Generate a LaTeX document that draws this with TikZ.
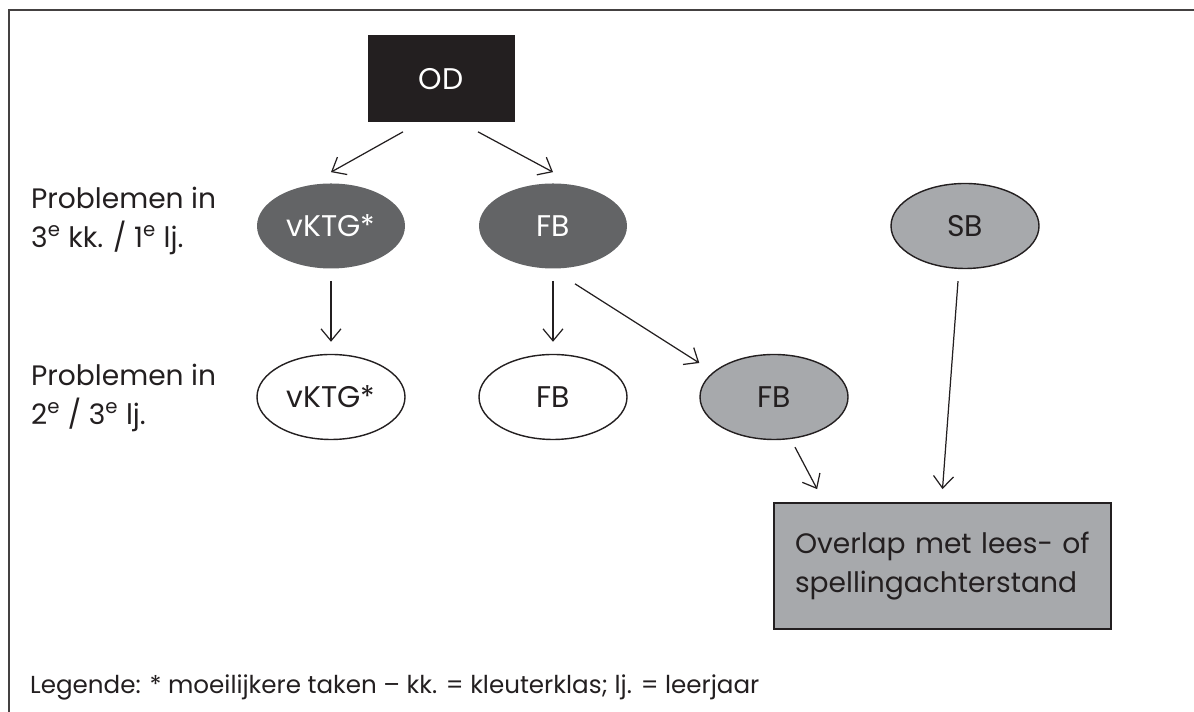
\documentclass[tikz,border=0pt]{standalone}
\usepackage{fontspec}
\setmainfont{Poppins}
\usepackage{xcolor}
\usetikzlibrary{arrows.meta,shapes.geometric,positioning}

\definecolor{ink}{HTML}{231F20}
\definecolor{darkfill}{HTML}{636466}
\definecolor{lightfill}{HTML}{A7A9AC}

\begin{document}
\begin{tikzpicture}[>={Straight Barb[length=0.24cm,width=0.4cm]},
    every node/.style={font=\fontsize{16}{22}\selectfont, text=ink},
    blob/.style={ellipse, minimum width=2.96cm, minimum height=1.7cm, inner sep=0pt, font=\fontsize{17}{22}\selectfont},
    darkblob/.style={blob, fill=darkfill, text=white},
    greyblob/.style={blob, draw=ink, line width=0.8pt, fill=lightfill},
    openblob/.style={blob, draw=ink, line width=0.8pt, fill=white},
    link/.style={->, draw=ink, line width=0.7pt},
    spaced/.style={shorten <=0.24cm, shorten >=0.24cm}]
      \useasboundingbox (0,0) rectangle (23.88,14.24);
      % frame (only top and left edge are in view)
      \draw[line width=1.2pt, draw=ink!85] (0.18,0) -- (0.18,14.04) -- (23.88,14.04);

      % top
      \node[rectangle, fill=ink, minimum width=2.94cm, minimum height=1.74cm, text=white,
            font=\fontsize{17}{22}\selectfont] (od) at (8.82,12.66) {OD};

      % row labels
      \node[anchor=west, align=left] (row1) at (0.5,9.82) {Problemen in\\3\textsuperscript{e} kk. / 1\textsuperscript{e} lj.};
      \node[anchor=west, align=left] (row2) at (0.5,6.28) {Problemen in\\2\textsuperscript{e} / 3\textsuperscript{e} lj.};

      % first row
      \node[darkblob] (vktg1) at (6.62,9.72) {vKTG*};
      \node[darkblob] (fb1) at (11.06,9.72) {FB};
      \node[greyblob] (sb) at (19.30,9.72) {SB};

      % second row
      \node[openblob] (vktg2) at (6.62,6.30) {vKTG*};
      \node[openblob] (fb2) at (11.06,6.30) {FB};
      \node[greyblob] (fb3) at (15.48,6.30) {FB};

      % outcome
      \node[rectangle, draw=ink, line width=1pt, fill=lightfill, minimum width=6.74cm, minimum height=2.52cm,
            align=left, text width=5.9cm] (overlap) at (18.85,2.92) {Overlap met lees- of\\spellingachterstand};

      \draw[link] ([xshift=-0.76cm,yshift=-0.18cm]od.south) -- ([yshift=0.22cm]vktg1.north);
      \draw[link] ([xshift=0.74cm,yshift=-0.18cm]od.south) -- ([yshift=0.22cm]fb1.north);
      \draw[link,spaced] (vktg1) -- (vktg2);
      \draw[link,spaced] (fb1) -- (fb2);
      \draw[link] ([xshift=0.44cm,yshift=-0.30cm]fb1.south) -- ([yshift=0.68cm]fb3.west);
      \draw[link] ([xshift=0.42cm,yshift=-0.14cm]fb3.south) -- ([xshift=0.88cm,yshift=0.26cm]overlap.north west);
      \draw[link] ([xshift=-0.14cm,yshift=-0.24cm]sb.south) -- ([yshift=0.26cm]overlap.north);

      \node[anchor=west, font=\fontsize{14}{17}\selectfont] (legend) at (0.48,0.5)
        {Legende: * moeilijkere taken – kk. = kleuterklas; lj. = leerjaar};
    \end{tikzpicture}
\end{document}
